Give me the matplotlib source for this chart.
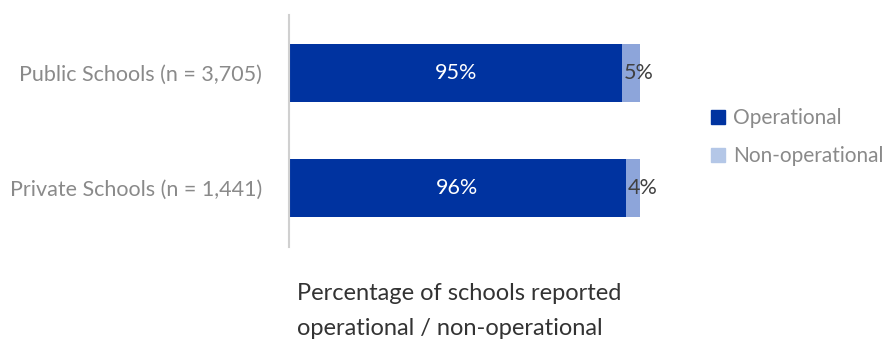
import matplotlib.pyplot as plt
from matplotlib.patches import Patch

categories = ['Private Schools (n = 1,441)', 'Public Schools (n = 3,705)']
operational = [96, 95]
non_operational = [4, 5]

dark_blue = '#0033A0'
light_blue = '#8DA5DA'
legend_light = '#B4C7E7'
grey_text = '#8a8a8a'

plt.rcParams['font.family'] = ['Lato', 'DejaVu Sans']

fig = plt.figure(figsize=(8.9, 3.45), dpi=100)
ax = fig.add_axes([289/890, 1-247/345, 351/890, 232/345])

y = range(len(categories))
ax.barh(y, operational, height=0.5, color=dark_blue)
ax.barh(y, non_operational, left=operational, height=0.5, color=light_blue)

for i in y:
    ax.text(operational[i] / 2, i, f'{operational[i]}%', ha='center', va='center',
            color='white', fontsize=15.5)
    ax.text(operational[i] + 0.4, i, f'{non_operational[i]}%', ha='left', va='center',
            color='#404040', fontsize=15.5)

ax.set_xlim(0, 100)
ax.set_ylim(-0.513, 1.504)
ax.set_yticks(list(y))
ax.set_yticklabels(categories, color=grey_text, fontsize=15.5)
ax.tick_params(axis='y', length=0, pad=19.5)
ax.set_xticks([])
for s in ['top', 'right', 'bottom']:
    ax.spines[s].set_visible(False)
ax.spines['left'].set_color('#d0d0d0')
ax.spines['left'].set_linewidth(1.5)

handles = [Patch(color=dark_blue, label='Operational'),
           Patch(color=legend_light, label='Non-operational')]
leg = fig.legend(handles=handles, loc='center left', bbox_to_anchor=(692/890, 1-137/345),
                 frameon=False, fontsize=15, handlelength=0.66, handleheight=0.66,
                 handletextpad=0.4, labelspacing=0.85)
for t in leg.get_texts():
    t.set_color(grey_text)

fig.text(297/890, 1-311/345, 'Percentage of schools reported\noperational / non-operational',
         ha='left', va='center', color='#333333', fontsize=17,
         linespacing=1.85)

fig.savefig('out.png', dpi=100)
